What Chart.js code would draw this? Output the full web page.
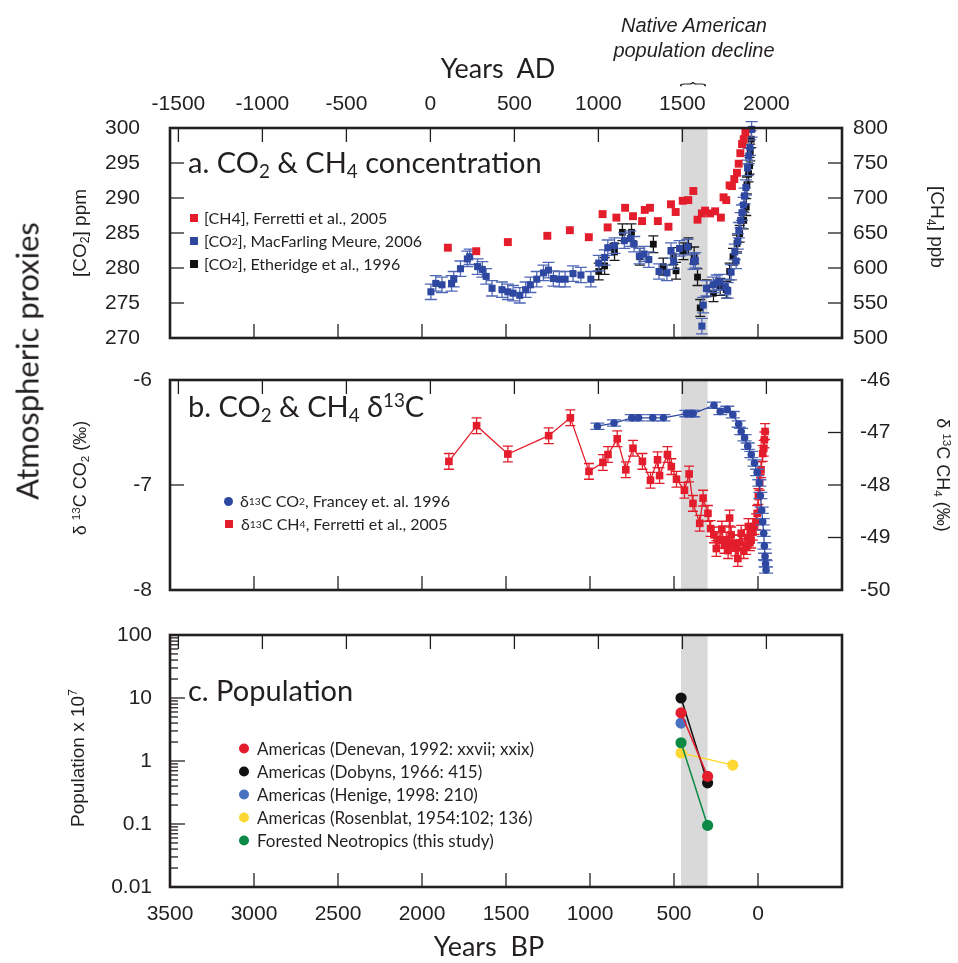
<!DOCTYPE html>
<html>
<head>
<meta charset="utf-8">
<script src="https://cdn.jsdelivr.net/npm/chart.js@4.4.1/dist/chart.umd.min.js"></script>
<style>
  body { margin: 0; background: #fff; }
  #wrap { position: relative; width: 958px; height: 963px; overflow: hidden; color: #231f20; font-family: Lato, 'Open Sans', sans-serif; }
  canvas { position: absolute; left: 0; }
  .t { position: absolute; white-space: nowrap; line-height: 1; }
  .vl { position: absolute; white-space: nowrap; line-height: 1; transform: translate(-50%, -50%) rotate(-90deg); }
  .vr { position: absolute; white-space: nowrap; line-height: 1; transform: translate(-50%, -50%) rotate(90deg); }
  .hs { font-family: 'Liberation Sans', Arial, sans-serif; }
  sub { font-size: 65%; vertical-align: -0.25em; line-height: 0; }
  sup { font-size: 65%; vertical-align: 0.55em; line-height: 0; }
  .panel { font-size: 29px; }
  .leg { position: absolute; white-space: nowrap; display: flex; align-items: center; transform: translateY(-50%); line-height: 1; }
  .sq { display: inline-block; width: 8px; height: 8px; margin-right: 6px; }
  .dot { display: inline-block; width: 10px; height: 10px; border-radius: 50%; margin-right: 8px; }
</style>
</head>
<body>
<div id="wrap">
  <canvas id="chartA" width="958" height="352" style="top:0"></canvas>
  <canvas id="chartB" width="958" height="252" style="top:352px"></canvas>
  <canvas id="chartC" width="958" height="359" style="top:604px"></canvas>

  <div class="t hs" style="left:694px;top:15px;transform:translateX(-50%);font-size:20px;font-style:italic">Native American</div>
  <div class="t hs" style="left:694px;top:40px;transform:translateX(-50%);font-size:20px;font-style:italic">population decline</div>
  <div class="t hs" style="left:695px;top:84px;transform:translate(-50%,-50%) rotate(90deg) scaleX(0.5);font-size:28px;font-weight:300">{</div>

  <div class="t" style="left:498px;top:67px;transform:translate(-50%,-50%);font-size:27px">Years&nbsp; AD</div>
  <div class="t" style="left:489px;top:945px;transform:translate(-50%,-50%);font-size:27px">Years&nbsp; BP</div>
  <div class="vl" style="left:27px;top:361px;font-size:31px">Atmospheric proxies</div>

  <div class="vl hs" style="left:79px;top:233px;font-size:19px">[CO<sub>2</sub>] ppm</div>
  <div class="vr hs" style="left:937px;top:227px;font-size:19px">[CH<sub>4</sub>] ppb</div>
  <div class="vl hs" style="left:80px;top:478px;font-size:18px">&delta; <sup>13</sup>C CO<sub>2</sub> (&permil;)</div>
  <div class="vr hs" style="left:943px;top:475px;font-size:18px">&delta; <sup>13</sup>C CH<sub>4</sub> (&permil;)</div>
  <div class="vl hs" style="left:77px;top:758px;font-size:19px">Population x 10<sup>7</sup></div>

  <div class="t panel" style="left:188px;top:147px">a. CO<sub>2</sub> &amp; CH<sub>4</sub> concentration</div>
  <div class="t panel" style="left:188px;top:391px">b. CO<sub>2</sub> &amp; CH<sub>4</sub> &delta;<sup>13</sup>C</div>
  <div class="t panel" style="left:188px;top:675px">c. Population</div>

  <div class="leg" style="left:190px;top:218px;font-size:16px"><span class="sq" style="background:#e31d2b"></span>[CH4], Ferretti et al., 2005</div>
  <div class="leg" style="left:190px;top:241px;font-size:16px"><span class="sq" style="background:#2e48a2"></span>[CO<sub>2</sub>], MacFarling Meure, 2006</div>
  <div class="leg" style="left:190px;top:264px;font-size:16px"><span class="sq" style="background:#111"></span>[CO<sub>2</sub>], Etheridge et al., 1996</div>

  <div class="leg" style="left:224px;top:501px;font-size:16px"><span class="dot" style="background:#2e48a2;width:9px;height:9px;margin-right:7px"></span>&delta;<sup>13</sup>C CO<sub>2</sub>, Francey et. al. 1996</div>
  <div class="leg" style="left:225px;top:524px;font-size:16px"><span class="sq" style="background:#e31d2b;margin-right:8px"></span>&delta;<sup>13</sup>C CH<sub>4</sub>, Ferretti et al., 2005</div>

  <div class="leg" style="left:239px;top:748px;font-size:17px"><span class="dot" style="background:#e31d2b"></span>Americas (Denevan, 1992: xxvii; xxix)</div>
  <div class="leg" style="left:239px;top:771px;font-size:17px"><span class="dot" style="background:#111"></span>Americas (Dobyns, 1966: 415)</div>
  <div class="leg" style="left:239px;top:794px;font-size:17px"><span class="dot" style="background:#4a72c2"></span>Americas (Henige, 1998: 210)</div>
  <div class="leg" style="left:239px;top:817px;font-size:17px"><span class="dot" style="background:#fdd835"></span>Americas (Rosenblat, 1954:102; 136)</div>
  <div class="leg" style="left:239px;top:840px;font-size:17px"><span class="dot" style="background:#0b8a45"></span>Forested Neotropics (this study)</div>
</div>

<script>
// ---- axes ----
const bpTicks = [3500, 3000, 2500, 2000, 1500, 1000, 500, 0];
const adTicks = [-1500, -1000, -500, 0, 500, 1000, 1500, 2000];
const bandBP = [458, 300];           // AD 1492-1650
const co2Ticks = [300, 295, 290, 285, 280, 275, 270];
const ch4Ticks = [800, 750, 700, 650, 600, 550, 500];
const d13co2Ticks = [-6, -7, -8];
const d13ch4Ticks = [-46, -47, -48, -49, -50];
const popTicks = [100, 10, 1, 0.1, 0.01];

// ---- a. concentrations (years BP) ----
const ch4BP  = [1846,1677,1489,1254,1120,1007,925,895,843,791,744,690,674,643,596,533,518,490,448,415,385,360,334,315,285,255,221,205,189,169,155,141,125,115,105,95,85,75];
const ch4ppb = [629,624,637,646,654,644,677,658,672,686,674,667,683,686,667,659,691,680,696,697,710,669,678,682,678,681,672,701,697,718,717,727,736,749,764,777,784,794];

const meureBP  = [1947,1918,1881,1824,1811,1771,1730,1716,1669,1641,1618,1583,1524,1489,1458,1418,1383,1355,1317,1277,1247,1218,1183,1148,1101,1054,995,948,913,894,854,796,760,737,706,678,650,589,542,518,502,467,420,384,373,334,326,307,267,245,227,195,180,160,138,130,120,114,103,95,86,80,72,62,55,48,38];
const meurePPM = [276.6,277.8,277.6,277.8,278.4,279.9,281.3,281.6,280.2,279.8,278.8,277.1,276.9,276.6,276.4,276.1,276.9,277.6,278.4,279.3,279.7,278.5,278.4,278.4,279.2,279.0,278.4,280.7,281.5,282.9,283.2,283.9,284.2,283.4,281.7,282.0,281.2,279.5,279.3,282.5,280.9,282.8,283.0,280.9,281.1,271.7,274.7,277.1,277.6,277.9,278.0,277.3,276.8,279.4,282.3,281.0,283.8,285.4,286.8,287.9,289.0,290.3,291.5,294.3,296.0,297.2,299.8];
const meureErr = 1.1;

const ethBP  = [948,913,854,807,753,703,623,564,504,488,444,414,380,360,344,305,265,225,189,169,149,125,109,85,70,66,56,50,46,40];
const ethPPM = [279.5,280.3,282.3,285.1,285.1,281.6,283.4,280.2,281.7,279.6,282.4,283.1,281.8,278.7,274.3,277.1,276.4,277.3,276.9,279.5,281.6,283.5,284.9,286.8,288.7,291.8,293.5,294.6,296.5,298.4];
const ethErr = 1.2;

// ---- b. delta 13C ----
const d13co2BP  = [956,857,751,711,626,563,426,397,386,262,225,183,150,115,100,80,61,40,21,5,-8,-14,-22,-28,-34,-38,-42,-45,-48];
const d13co2Val = [-6.44,-6.41,-6.36,-6.36,-6.36,-6.36,-6.32,-6.32,-6.32,-6.24,-6.30,-6.28,-6.33,-6.42,-6.49,-6.55,-6.63,-6.71,-6.79,-6.88,-6.98,-7.10,-7.24,-7.35,-7.46,-7.58,-7.68,-7.75,-7.81];
const d13co2Err = 0.03;

const d13ch4BP  = [1840,1675,1489,1246,1117,1006,923,893,838,787,744,688,640,598,586,539,516,485,438,410,387,347,327,298,282,262,248,232,215,200,189,178,169,160,150,135,120,110,100,85,71,62,57,48,41,30,21,12,5,-2,-10,-18,-28,-34,-38,-42];
const d13ch4Val = [-47.55,-46.87,-47.41,-47.06,-46.72,-47.74,-47.57,-47.42,-47.12,-47.71,-47.30,-47.55,-47.91,-47.52,-47.82,-47.42,-47.65,-47.89,-48.10,-47.79,-48.35,-48.73,-48.25,-48.54,-48.83,-48.95,-49.21,-49.05,-48.84,-49.15,-49.05,-49.25,-48.63,-48.95,-49.11,-49.2,-49.40,-49.1,-48.92,-49.25,-49.17,-49.0,-48.79,-49.1,-49.05,-48.9,-48.79,-48.7,-48.54,-48.22,-47.95,-47.71,-47.40,-47.3,-47.14,-46.98];
const d13ch4Err = 0.15;

// ---- c. population (x 10^7) ----
const denevanBP = [458, 300],  denevanPop = [5.8, 0.57];
const dobynsBP = [458, 300],   dobynsPop = [10, 0.45];
const henigeBP = [458],        henigePop = [4.0];
const rosenblatBP = [458, 150], rosenblatPop = [1.34, 0.86];
const neoBP = [458, 300],      neoPop = [1.95, 0.095];

const ink = '#231f20';
const tickFont = { family: "'Liberation Sans', Arial, sans-serif", size: 21 };
const RED = '#e31d2b', BLUE = '#2e48a2', BLACK = '#111111';

const pts = (xs, ys) => xs.map((x, i) => ({ x: x, y: ys[i] }));
const plain = v => String(v);

function xBP(h, labels, pad) {
  return {
    type: 'linear', position: 'bottom', min: -500, max: 3500, reverse: true,
    grid: { display: false, drawTicks: false }, border: { display: false },
    afterBuildTicks: s => { s.ticks = bpTicks.map(v => ({ value: v })); },
    afterFit: s => { s.height = h; },
    ticks: { display: labels, padding: pad || 0, font: tickFont, color: ink, autoSkip: false, maxRotation: 0, callback: plain }
  };
}
function xAD(h, labels, pad) {
  return {
    type: 'linear', position: 'top', min: 1950 - 3500, max: 1950 + 500,
    grid: { display: false, drawTicks: false }, border: { display: false },
    afterBuildTicks: s => { s.ticks = adTicks.map(v => ({ value: v })); },
    afterFit: s => { s.height = h; },
    ticks: { display: labels, padding: pad || 0, font: tickFont, color: ink, autoSkip: false, maxRotation: 0, callback: plain }
  };
}
// label gap is given as an (undrawn) tick length so it does not inset the plot vertically
function yLin(pos, min, max, tickVals, width, gap) {
  return {
    type: 'linear', position: pos, min: min, max: max,
    grid: { display: false, drawTicks: true, tickLength: gap }, border: { display: false },
    afterBuildTicks: s => { s.ticks = tickVals.map(v => ({ value: v })); },
    afterFit: s => { s.width = width; },
    ticks: { padding: 0, font: tickFont, color: ink, autoSkip: false, callback: plain }
  };
}

// gray band, error bars, inward ticks and frame
const framePlugin = {
  id: 'frame',
  beforeDatasetsDraw(chart) {
    const { ctx, chartArea: a, scales } = chart;
    const p1 = scales.x.getPixelForValue(bandBP[0]), p2 = scales.x.getPixelForValue(bandBP[1]);
    ctx.save();
    ctx.fillStyle = '#d9d9d9';
    ctx.fillRect(Math.min(p1, p2), a.top, Math.abs(p2 - p1), a.bottom - a.top);
    ctx.restore();
  },
  beforeDatasetDraw(chart, args) {
    const ds = chart.data.datasets[args.index];
    if (!ds.errY) return;
    const ctx = chart.ctx, ys = chart.scales[args.meta.yAxisID];
    ctx.save();
    ctx.strokeStyle = ds.errColor || ds.borderColor;
    ctx.lineWidth = 1.3;
    args.meta.data.forEach((pt, i) => {
      const v = ds.data[i].y;
      const y1 = ys.getPixelForValue(v + ds.errY), y2 = ys.getPixelForValue(v - ds.errY);
      const w = ds.capW / 2;
      ctx.beginPath();
      ctx.moveTo(pt.x, y1); ctx.lineTo(pt.x, y2);
      ctx.moveTo(pt.x - w, y1); ctx.lineTo(pt.x + w, y1);
      ctx.moveTo(pt.x - w, y2); ctx.lineTo(pt.x + w, y2);
      ctx.stroke();
    });
    ctx.restore();
  },
  afterDraw(chart) {
    const { ctx, chartArea: a } = chart;
    ctx.save();
    ctx.strokeStyle = ink;
    ctx.lineWidth = 1.3;
    Object.values(chart.scales).forEach(s => {
      const lo = Math.min(s.min, s.max), hi = Math.max(s.min, s.max);
      s.ticks.forEach(t => {
        const v = t.value;
        if (Math.abs(v - lo) < 1e-9 * Math.max(1, Math.abs(lo)) || Math.abs(v - hi) < 1e-9 * Math.max(1, Math.abs(hi))) return;
        if (v <= lo || v >= hi) return;
        const p = s.getPixelForValue(v);
        let len = 14;
        if (s.type === 'logarithmic') {
          const m = Math.log10(v);
          len = Math.abs(m - Math.round(m)) < 1e-6 ? 15 : 8;
        }
        ctx.beginPath();
        if (s.position === 'left') { ctx.moveTo(a.left, p); ctx.lineTo(a.left + len, p); }
        if (s.position === 'right') { ctx.moveTo(a.right, p); ctx.lineTo(a.right - len, p); }
        if (s.position === 'top') { ctx.moveTo(p, a.top); ctx.lineTo(p, a.top + len); }
        if (s.position === 'bottom') { ctx.moveTo(p, a.bottom); ctx.lineTo(p, a.bottom - len); }
        ctx.stroke();
      });
    });
    ctx.lineWidth = 2.6;
    ctx.strokeRect(a.left, a.top, a.right - a.left, a.bottom - a.top);
    ctx.restore();
  }
};

const baseOpts = {
  responsive: false, animation: false, devicePixelRatio: 1,
  layout: { padding: 0 },
  plugins: { legend: { display: false }, tooltip: { enabled: false } }
};

// ---- panel a ----
new Chart(document.getElementById('chartA'), {
  type: 'scatter',
  data: {
    datasets: [
      { data: pts(ch4BP, ch4ppb), yAxisID: 'yR', pointStyle: 'rect', pointRadius: 5.6, backgroundColor: RED, borderWidth: 0, clip: false },
      { data: pts(meureBP, meurePPM), yAxisID: 'y', pointStyle: 'rect', pointRadius: 5, backgroundColor: BLUE, borderWidth: 0,
        errY: meureErr, capW: 12, errColor: '#4f67b5', clip: false },
      { data: pts(ethBP, ethPPM), yAxisID: 'y', pointStyle: 'rect', pointRadius: 4.8, backgroundColor: BLACK, borderWidth: 0,
        errY: ethErr, capW: 10, errColor: '#1a1a1a', clip: false }
    ]
  },
  options: Object.assign({}, baseOpts, {
    scales: {
      x: xBP(14, false),
      xa: xAD(128, true, 11),
      y: yLin('left', 270, 300, co2Ticks, 170, 30),
      yR: yLin('right', 500, 800, ch4Ticks, 116, 11)
    }
  }),
  plugins: [framePlugin]
});

// ---- panel b ----
new Chart(document.getElementById('chartB'), {
  type: 'scatter',
  data: {
    datasets: [
      { data: pts(d13co2BP, d13co2Val), yAxisID: 'y', showLine: true, borderColor: BLUE, borderWidth: 1.3,
        pointStyle: 'circle', pointRadius: 3.8, backgroundColor: BLUE, pointBorderWidth: 0,
        errY: d13co2Err, capW: 14, errColor: '#4f67b5', clip: false },
      { data: pts(d13ch4BP, d13ch4Val), yAxisID: 'yR', showLine: true, borderColor: RED, borderWidth: 1.3,
        pointStyle: 'rect', pointRadius: 5.4, backgroundColor: RED, pointBorderWidth: 0,
        errY: d13ch4Err, capW: 10, errColor: RED, clip: false }
    ]
  },
  options: Object.assign({}, baseOpts, {
    scales: {
      x: xBP(14, false),
      xa: xAD(28, false),
      y: yLin('left', -8, -6, d13co2Ticks, 170, 18),
      yR: yLin('right', -50, -46, d13ch4Ticks, 116, 18)
    }
  }),
  plugins: [framePlugin]
});

// ---- panel c ----
const popAll = [];
popTicks.slice(1).forEach(d => { for (let k = 1; k <= 9; k++) popAll.push(k === 1 ? d : d * k); });
popAll.push(100);

const popSet = (xs, ys, c) => ({
  data: pts(xs, ys), showLine: true, borderColor: c, borderWidth: 1.5,
  pointStyle: 'circle', pointRadius: 5.6, backgroundColor: c, pointBorderWidth: 0, clip: false
});

new Chart(document.getElementById('chartC'), {
  type: 'scatter',
  data: {
    datasets: [
      popSet(denevanBP, denevanPop, '#e31d2b'),
      popSet(henigeBP, henigePop, '#4a72c2'),
      popSet(dobynsBP, dobynsPop, '#111111'),
      popSet(neoBP, neoPop, '#0b8a45'),
      popSet(rosenblatBP, rosenblatPop, '#fdd835')
    ]
  },
  options: Object.assign({}, baseOpts, {
    layout: { padding: { right: 116 } },
    scales: {
      x: xBP(76, true, 15),
      xa: xAD(31, false),
      y: {
        type: 'logarithmic', position: 'left', min: 0.01, max: 100,
        grid: { display: false, drawTicks: true, tickLength: 18 }, border: { display: false },
        afterBuildTicks: s => { s.ticks = popAll.map(v => ({ value: v })); },
        afterFit: s => { s.width = 170; },
        ticks: {
          padding: 0, font: tickFont, color: ink, autoSkip: false,
          callback: v => popTicks.indexOf(v) >= 0 ? String(v) : ''
        }
      }
    }
  }),
  plugins: [framePlugin]
});
</script>
</body>
</html>
